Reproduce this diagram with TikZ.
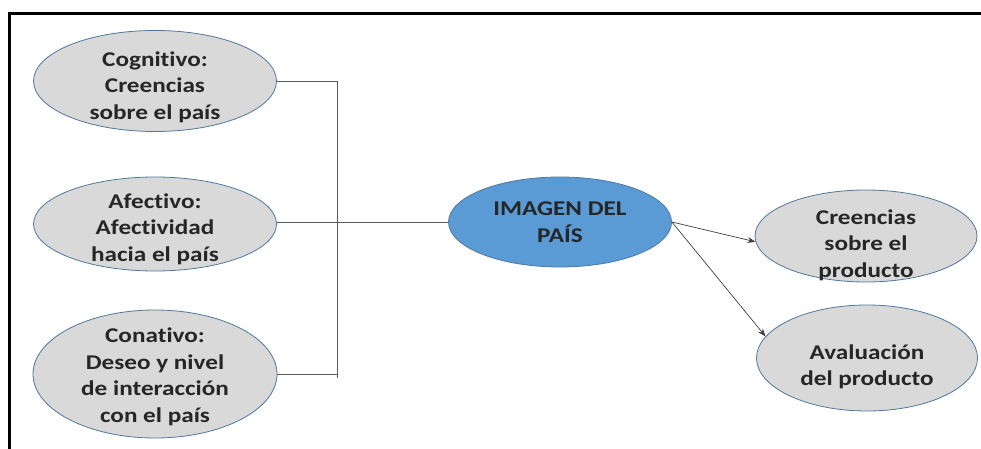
\documentclass[tikz,border=0pt]{standalone}
\usepackage{fontspec}
\setmainfont{Carlito}[FakeStretch=1.2, Ligatures={NoCommon}]
\usetikzlibrary{shapes.geometric,arrows.meta}
\definecolor{ellgray}{RGB}{217,217,217}
\definecolor{ellblue}{RGB}{91,155,213}
\definecolor{edgeblue}{RGB}{80,120,160}
\definecolor{linegray}{RGB}{90,90,90}
\tikzset{
  oval/.style={ellipse, draw=edgeblue, line width=0.8pt, fill=ellgray, inner sep=0pt},
  mainoval/.style={oval, fill=ellblue},
  ovaltext/.style={inner sep=0pt, align=center, font=\fontsize{21}{26.5}\selectfont\bfseries, text=black!85},
  link/.style={draw=linegray, line width=0.8pt},
  arrowlink/.style={draw=black!75, line width=0.7pt, -{Stealth[length=8pt,width=6pt]}}
}
\begin{document}
\begin{tikzpicture}[x=1pt,y=-1pt]
\useasboundingbox (0,0) rectangle (981,449);
\fill[white] (0,0) rectangle (981,449);
% frame
\draw[line width=3pt] (9.5,449) -- (9.5,13.5) -- (981,13.5);
% ellipses
\node[oval, minimum width=243pt, minimum height=101pt] (cog) at (155,81) {};
\node[oval, minimum width=243pt, minimum height=94pt] (afe) at (155,224) {};
\node[oval, minimum width=244pt, minimum height=128pt] (con) at (155,374) {};
\node[mainoval, minimum width=223pt, minimum height=90pt] (img) at (560,222) {};
\node[oval, minimum width=222pt, minimum height=92pt] (cre) at (866,236) {};
\node[oval, minimum width=221pt, minimum height=106pt] (ava) at (867,358) {};
% texts
\node[ovaltext, yshift=-6pt] (cogt) at (cog) {Cognitivo:\\Creencias\\sobre el país};
\node[ovaltext, yshift=-5pt] (afet) at (afe) {Afectivo:\\Afectividad\\hacia el país};
\node[ovaltext, yshift=-3pt] (cont) at (con) {Conativo:\\Deseo y nivel\\de interacción\\con el país};
\node[ovaltext] (imgt) at (img) {IMAGEN DEL\\PAÍS};
\node[ovaltext, yshift=-9pt] (cret) at (cre) {Creencias\\sobre el\\producto};
\node[ovaltext, yshift=-9pt] (avat) at (ava) {Avaluación\\del producto};
% bracket
\coordinate (jt) at (337,81);
\coordinate (jb) at (337,378);
\draw[link] (cog.east) -- (jt) -- (jb);
\draw[link] (con.east) -- (con.east -| jt);
\draw[link] (img.west -| afe.east) -- (img.west);
% arrows
\draw[arrowlink] (img.east) -- (cre.183);
\draw[arrowlink] (img.east) -- (ava.168);
\end{tikzpicture}
\end{document}
